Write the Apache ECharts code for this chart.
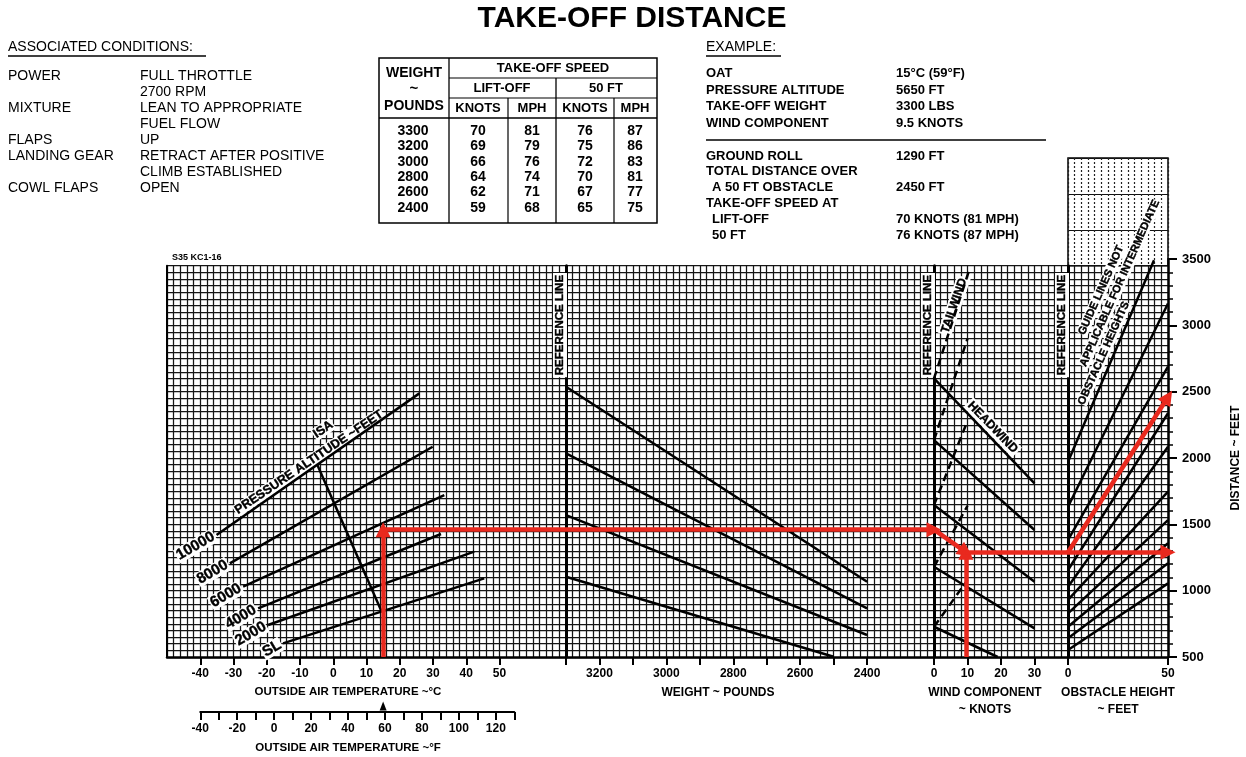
<!DOCTYPE html>
<html><head><meta charset="utf-8">
<script src="https://cdn.jsdelivr.net/npm/echarts@6/dist/echarts.min.js"></script>
<style>html,body{margin:0;padding:0;background:#fff}#c{width:1246px;height:757px}</style>
</head><body><div id="c"></div>
<script>
// ---------------- DATA ----------------
// Pressure altitude guide lines (temperature °C, distance ft)
const altSL    = [[-15.1, 603], [45.4, 1093]];
const alt2000  = [[-19.6, 741], [42.4, 1294]];
const alt4000  = [[-22.6, 867], [32.4, 1427]];
const alt6000  = [[-27.1, 1030], [33.4, 1721]];
const alt8000  = [[-31.1, 1206], [29.9, 2085]];
const alt10000 = [[-35.1, 1419], [25.9, 2487]];
const altitudeNames = ['SL', '2000', '4000', '6000', '8000', '10000'];
const isaLine = [[-4.8, 1950], [14.5, 845]];

// Weight guide lines (pounds, distance ft)
const weightGuide1 = [[3300, 2537], [2400, 1067]];
const weightGuide2 = [[3300, 2035], [2400, 867]];
const weightGuide3 = [[3300, 1570], [2400, 666]];
const weightGuide4 = [[3300, 1105], [2500, 502]];

// Wind guide lines (knots, distance ft)
const headwind1 = [[0, 2600], [30, 1809]];
const headwind2 = [[0, 2135], [30, 1457]];
const headwind3 = [[0, 1645], [30, 1067]];
const headwind4 = [[0, 1180], [30, 716]];
const headwind5 = [[0, 728], [19, 500]];
const tailwind1 = [[0, 2600], [10.5, 3416]];
const tailwind2 = [[0, 2135], [10, 2900]];
const tailwind3 = [[0, 1645], [10, 2280]];
const tailwind4 = [[0, 1180], [10, 1640]];
const tailwind5 = [[0, 728], [10, 1080]];

// Obstacle guide lines (feet, distance ft)
const obstacleGuides = [
  [[0, 1972], [43, 3490]],
  [[0, 1633], [50, 3165]],
  [[0, 1382], [50, 2688]],
  [[0, 1156], [50, 2337]],
  [[0, 1030], [50, 2085]],
  [[0, 930], [50, 1746]],
  [[0, 829], [50, 1532]],
  [[0, 728], [50, 1357]],
  [[0, 641], [50, 1206]],
  [[0, 553], [50, 1055]]
];

// Example path
const exampleOat = 15;
const exampleAltDistance = 1460;
const exampleWind = 9.5;
const exampleGroundRoll = 1290;
const exampleTotal = 2460;
const isaSeaLevelF = 59;

// Tick labels
const tempLabelsC = [-40, -30, -20, -10, 0, 10, 20, 30, 40, 50];
const tempLabelsF = [-40, -20, 0, 20, 40, 60, 80, 100, 120];
const weightLabels = [3200, 3000, 2800, 2600, 2400];
const windLabels = [0, 10, 20, 30];
const obstacleLabels = [0, 50];
const distanceLabels = [500, 1000, 1500, 2000, 2500, 3000, 3500];

// Text blocks
const conditionsLeft = ['POWER', '', 'MIXTURE', '', 'FLAPS', 'LANDING GEAR', '', 'COWL FLAPS'];
const conditionsRight = ['FULL THROTTLE', '2700 RPM', 'LEAN TO APPROPRIATE', 'FUEL FLOW', 'UP', 'RETRACT AFTER POSITIVE', 'CLIMB ESTABLISHED', 'OPEN'];
const tableWeights = [3300, 3200, 3000, 2800, 2600, 2400];
const liftoffKnots = [70, 69, 66, 64, 62, 59];
const liftoffMph = [81, 79, 76, 74, 71, 68];
const fiftyKnots = [76, 75, 72, 70, 67, 65];
const fiftyMph = [87, 86, 83, 81, 77, 75];
const exampleTopRows = [['OAT', '15°C (59°F)'], ['PRESSURE ALTITUDE', '5650 FT'], ['TAKE-OFF WEIGHT', '3300 LBS'], ['WIND COMPONENT', '9.5 KNOTS']];
const exampleBottomRows = [['GROUND ROLL', '1290 FT'], ['TOTAL DISTANCE OVER', ''], [' A 50 FT OBSTACLE', '2450 FT'], ['TAKE-OFF SPEED AT', ''], [' LIFT-OFF', '70 KNOTS (81 MPH)'], [' 50 FT', '76 KNOTS (87 MPH)']];

// ---------------- LAYOUT / STYLE ----------------
const FONT = '"Liberation Sans", Arial, Helvetica, sans-serif';
const RED = '#e9291e';
const K = 398 / 3000;           // px per ft
const BOTTOM_Y = 657;
const MAIN_MAX = 3450;
const MAIN_TOP = BOTTOM_Y - (MAIN_MAX - 500) * K;
const MAIN_H = BOTTOM_Y - MAIN_TOP;
const PXC = 399 / 120;          // px per °C
const C0X = 167;                // x of -50 °C

const gridLine = {show: true, lineStyle: {color: '#151515', width: 1.25}};
const axisBlack = (w) => ({show: true, onZero: false, lineStyle: {color: '#000', width: w}});
const tickLabel = {show: true, color: '#000', fontFamily: FONT, fontWeight: 'bold', fontSize: 12, margin: 11};

const chart = echarts.init(document.getElementById('c'));

function cx(c) { return C0X + (c + 50) * PXC; }
function fToC(f) { return (f - 32) * 5 / 9; }

const grids = [
  {left: 167, top: MAIN_TOP, width: 399, height: MAIN_H},            // 0 temp
  {left: 566, top: MAIN_TOP, width: 368, height: MAIN_H},            // 1 weight
  {left: 934, top: MAIN_TOP, width: 134, height: MAIN_H},            // 2 wind
  {left: 1068, top: MAIN_TOP, width: 100, height: MAIN_H},           // 3 obstacle
  {left: 1068, top: 158, width: 100, height: MAIN_TOP - 158, show: true, borderColor: '#000', borderWidth: 1.5, backgroundColor: 'transparent'}, // 4 extension
  {left: cx(-40), top: BOTTOM_Y - 1, width: 90 * PXC, height: 1},      // 5 temp ticks
  {left: 566, top: BOTTOM_Y - 1, width: 368 * 900 / 1100, height: 1}, // 6 weight ticks
  {left: 934, top: BOTTOM_Y - 1, width: 134 * 30 / 40, height: 1},    // 7 wind ticks
  {left: cx(fToC(-40)), top: 711, width: cx(fToC(130)) - cx(fToC(-40)), height: 1}, // 8 °F
  {left: 1068, top: BOTTOM_Y - 3000 * K, width: 100, height: 3000 * K} // 9 distance axis
];

const hiddenX = (g) => ({gridIndex: g, type: 'value', show: false, min: 0, max: 1});
const hiddenY = (g) => ({gridIndex: g, type: 'value', show: false, min: 0, max: 1});

const xAxes = [
  {gridIndex: 0, type: 'value', min: -50, max: 70, interval: 10, axisLine: axisBlack(2.5), axisTick: {show: false}, axisLabel: {show: false}, splitLine: gridLine, minorTick: {show: false, splitNumber: 5}, minorSplitLine: gridLine},
  {gridIndex: 1, type: 'value', min: 2200, max: 3300, inverse: true, interval: 100, axisLine: axisBlack(2.5), axisTick: {show: false}, axisLabel: {show: false}, splitLine: gridLine, minorTick: {show: false, splitNumber: 5}, minorSplitLine: gridLine},
  {gridIndex: 2, type: 'value', min: 0, max: 40, interval: 10, axisLine: axisBlack(2.5), axisTick: {show: false}, axisLabel: {show: false}, splitLine: gridLine, minorTick: {show: false, splitNumber: 5}, minorSplitLine: gridLine},
  {gridIndex: 3, type: 'value', min: 0, max: 50, interval: 50, position: 'bottom', axisLine: axisBlack(2.5), axisTick: {show: true, length: 8, lineStyle: {color: '#000', width: 2}}, axisLabel: Object.assign({}, tickLabel, {formatter: v => obstacleLabels.includes(v) ? String(v) : ''}), splitLine: {show: false}},
  {gridIndex: 3, type: 'value', min: 0, max: 50, interval: 10, position: 'top', axisLine: {show: false}, axisTick: {show: false}, axisLabel: {show: false}, splitLine: gridLine, minorTick: {show: false, splitNumber: 3}, minorSplitLine: gridLine},
  {gridIndex: 4, type: 'value', min: 0, max: 50, interval: 10, axisLine: {show: false}, axisTick: {show: false}, axisLabel: {show: false}, splitLine: {show: true, lineStyle: {color: '#222', width: 1.2, type: [2, 2]}}, minorTick: {show: false, splitNumber: 3}, minorSplitLine: {show: true, lineStyle: {color: '#222', width: 1.2, type: [2, 2]}}},
  {gridIndex: 5, type: 'value', min: -40, max: 50, interval: 10, axisLine: {show: false}, axisTick: {show: true, length: 8, lineStyle: {color: '#000', width: 2}}, axisLabel: Object.assign({}, tickLabel, {formatter: v => tempLabelsC.includes(v) ? String(v) : ''}), splitLine: {show: false}},
  {gridIndex: 6, type: 'value', min: 2400, max: 3300, inverse: true, interval: 100, axisLine: {show: false}, axisTick: {show: true, length: 8, lineStyle: {color: '#000', width: 2}}, axisLabel: Object.assign({}, tickLabel, {formatter: v => weightLabels.includes(v) ? String(v) : ''}), splitLine: {show: false}},
  {gridIndex: 7, type: 'value', min: 0, max: 30, interval: 10, axisLine: {show: false}, axisTick: {show: true, length: 8, lineStyle: {color: '#000', width: 2}}, axisLabel: Object.assign({}, tickLabel, {formatter: v => windLabels.includes(v) ? String(v) : ''}), splitLine: {show: false}},
  {gridIndex: 8, type: 'value', min: -40, max: 130, interval: 10, axisLine: axisBlack(2), axisTick: {show: true, length: 8, lineStyle: {color: '#000', width: 2}}, axisLabel: Object.assign({}, tickLabel, {formatter: v => tempLabelsF.includes(v) ? String(v) : ''}), splitLine: {show: false}},
  hiddenX(9)
];

const mainY = (g, w) => ({gridIndex: g, type: 'value', min: 500, max: MAIN_MAX, interval: 50, position: 'left', axisLine: axisBlack(w), axisTick: {show: false}, axisLabel: {show: false}, splitLine: gridLine});
const yAxes = [
  mainY(0, 2),
  mainY(1, 3),
  mainY(2, 3),
  mainY(3, 3),
  {gridIndex: 4, type: 'value', min: 0, max: 3, interval: 1, axisLine: {show: false}, axisTick: {show: false}, axisLabel: {show: false}, splitLine: {show: true, lineStyle: {color: '#111', width: 1.2}}},
  hiddenY(5), hiddenY(6), hiddenY(7), hiddenY(8),
  {gridIndex: 9, type: 'value', min: 500, max: 3500, interval: 500, position: 'right',
   axisLine: axisBlack(2.5), axisTick: {show: true, length: 9, lineStyle: {color: '#000', width: 2}},
   minorTick: {show: true, splitNumber: 5, length: 5, lineStyle: {color: '#000', width: 1.5}},
   axisLabel: {show: true, color: '#000', fontFamily: FONT, fontWeight: 'bold', fontSize: 13, margin: 14, formatter: v => distanceLabels.includes(v) ? String(v) : ''},
   splitLine: {show: false},
   name: 'DISTANCE ~ FEET', nameLocation: 'middle', nameRotate: 90, nameGap: 62,
   nameTextStyle: {color: '#000', fontFamily: FONT, fontWeight: 'bold', fontSize: 12}}
];

function curve(data, xi, yi, dashed, clip) {
  return {type: 'line', xAxisIndex: xi, yAxisIndex: yi, data: data, symbol: 'none', silent: true, z: 4,
    clip: clip !== false, animation: false,
    lineStyle: {color: '#000', width: 2.5, opacity: 1, type: dashed ? [8, 5] : 'solid'}};
}
function texts(items, xi, yi, label) {
  return {type: 'scatter', xAxisIndex: xi, yAxisIndex: yi, symbol: 'circle', symbolSize: 0, silent: true, z: 3, clip: false, animation: false,
    itemStyle: {color: '#000', opacity: 1},
    data: items.map(it => ({value: [it[0], it[1]], name: it[2]})),
    label: Object.assign({show: true, position: 'inside', formatter: '{b}', color: '#000', opacity: 1, fontFamily: FONT,
      fontWeight: 'bold', fontSize: 11.5, backgroundColor: '#fff', padding: [1, 2],
      textBorderColor: '#000', textBorderWidth: 0.4}, label)};
}
function redLines(segs, xi, yi, arrow) {
  return {type: 'lines', coordinateSystem: 'cartesian2d', xAxisIndex: xi, yAxisIndex: yi, z: 10, silent: true, clip: false,
    animation: false, polyline: false,
    symbol: arrow ? ['none', 'triangle'] : ['none', 'none'], symbolSize: 15,
    lineStyle: {color: RED, width: 4.5, opacity: 1, curveness: 0},
    data: segs.map(s => ({coords: s}))};
}

const altLines = [altSL, alt2000, alt4000, alt6000, alt8000, alt10000];
const series = [];
altLines.forEach(l => series.push(curve(l, 0, 0)));
series.push(curve(isaLine, 0, 0));
series.push(texts(altLines.map((l, i) => [l[0][0], l[0][1], altitudeNames[i]]), 0, 0,
  {position: 'left', distance: 2, rotate: 30, fontSize: 15, padding: [0, 1]}));
series.push(texts([[-7.3, 1968, 'PRESSURE ALTITUDE ~FEET']], 0, 0, {rotate: 34, fontSize: 12.5, padding: [0, 1]}));
series.push(texts([[-3, 2215, 'ISA']], 0, 0, {rotate: 34, fontSize: 12.5, padding: [0, 1]}));

[weightGuide1, weightGuide2, weightGuide3, weightGuide4].forEach(l => series.push(curve(l, 1, 1)));
series.push(texts([[3318, 3002, 'REFERENCE LINE']], 1, 1, {rotate: 90}));

[headwind1, headwind2, headwind3, headwind4, headwind5].forEach(l => series.push(curve(l, 2, 2)));
[tailwind1, tailwind2, tailwind3, tailwind4, tailwind5].forEach(l => series.push(curve(l, 2, 2, true)));
series.push(texts([[-1.8, 3002, 'REFERENCE LINE']], 2, 2, {rotate: 90}));
series.push(texts([[17.5, 2231, 'HEADWIND']], 2, 2, {rotate: -46, fontSize: 12}));
series.push(texts([[6, 3147, 'TAILWIND']], 2, 2, {rotate: 71, fontSize: 12}));

obstacleGuides.forEach((l, i) => series.push(curve(l, 3, 3, false, i !== 0)));
series.push(texts([[-3, 3002, 'REFERENCE LINE']], 3, 3, {rotate: 90}));
series.push(texts([[16.6, 3265, 'GUIDE LINES NOT'], [25.9, 3317, 'APPLICABLE FOR INTERMEDIATE'], [17.9, 2790, 'OBSTACLE HEIGHTS']], 3, 3,
  {rotate: 66, fontSize: 11, lineHeight: 12, padding: 0}));

// example path (red)
series.push(redLines([[[exampleOat, 500], [exampleOat, exampleAltDistance]]], 0, 0, true));
series.push(redLines([[[exampleOat, exampleAltDistance], [70, exampleAltDistance]]], 0, 0, false));
series.push(redLines([[[3300, exampleAltDistance], [2200, exampleAltDistance]]], 1, 1, true));
series.push(redLines([[[0, exampleAltDistance], [exampleWind, exampleGroundRoll]], [[exampleWind, 500], [exampleWind, exampleGroundRoll]]], 2, 2, true));
series.push(redLines([[[exampleWind, exampleGroundRoll], [40, exampleGroundRoll]]], 2, 2, false));
series.push(redLines([[[0, exampleGroundRoll], [50, exampleGroundRoll]], [[0, exampleGroundRoll], [50, exampleTotal]]], 3, 3, true));

// ISA marker on °F scale
series.push({type: 'scatter', xAxisIndex: 9, yAxisIndex: 8, data: [[isaSeaLevelF, 1]], symbol: 'triangle', symbolSize: [7, 9],
  symbolOffset: [0, -5], itemStyle: {color: '#000', opacity: 1}, silent: true, z: 5, clip: false, animation: false});

// ---------------- GRAPHIC TEXT ----------------
function txt(x, y, s, size, bold, align, family) {
  return {type: 'text', x: x, y: y, silent: true, z: 50,
    style: {text: s, fill: '#000', font: (bold ? 'bold ' : '') + size + 'px ' + (family || FONT), align: align || 'left', verticalAlign: 'middle'}};
}
function seg(x1, y1, x2, y2, w) {
  return {type: 'line', silent: true, z: 50, shape: {x1: x1, y1: y1, x2: x2, y2: y2}, style: {stroke: '#000', lineWidth: w || 1.2}};
}
const g = [];
g.push(txt(632, 19, 'TAKE-OFF DISTANCE', 30, true, 'center'));
// associated conditions
g.push(txt(8, 47, 'ASSOCIATED CONDITIONS:', 14, false));
g.push(seg(8, 56, 206, 56, 1.3));
conditionsLeft.forEach((s, i) => { if (s) g.push(txt(8, 76 + i * 16, s, 14, false)); });
conditionsRight.forEach((s, i) => g.push(txt(140, 76 + i * 16, s, 14, false)));
// table
g.push({type: 'rect', silent: true, z: 50, shape: {x: 379, y: 58, width: 278, height: 165}, style: {fill: 'none', stroke: '#000', lineWidth: 1.5}});
g.push(seg(449, 58, 449, 223, 1.3));
g.push(seg(449, 78, 657, 78, 1.2));
g.push(seg(449, 98, 657, 98, 1.2));
g.push(seg(556, 78, 556, 223, 1.3));
g.push(seg(508, 98, 508, 223, 1.2));
g.push(seg(614, 98, 614, 223, 1.2));
g.push(seg(379, 118, 657, 118, 1.6));
g.push(txt(414, 73, 'WEIGHT', 14, true, 'center'));
g.push(txt(414, 89, '~', 15, true, 'center'));
g.push(txt(414, 106, 'POUNDS', 14, true, 'center'));
g.push(txt(553, 68, 'TAKE-OFF SPEED', 13, true, 'center'));
g.push(txt(502, 88, 'LIFT-OFF', 13, true, 'center'));
g.push(txt(606, 88, '50 FT', 13, true, 'center'));
g.push(txt(478, 108, 'KNOTS', 13, true, 'center'));
g.push(txt(532, 108, 'MPH', 13, true, 'center'));
g.push(txt(585, 108, 'KNOTS', 13, true, 'center'));
g.push(txt(635, 108, 'MPH', 13, true, 'center'));
tableWeights.forEach((w, i) => {
  const y = 131 + i * 15.4;
  g.push(txt(413, y, String(w), 14, true, 'center'));
  g.push(txt(478, y, String(liftoffKnots[i]), 14, true, 'center'));
  g.push(txt(532, y, String(liftoffMph[i]), 14, true, 'center'));
  g.push(txt(585, y, String(fiftyKnots[i]), 14, true, 'center'));
  g.push(txt(635, y, String(fiftyMph[i]), 14, true, 'center'));
});
// example
g.push(txt(706, 47, 'EXAMPLE:', 14, false));
g.push(seg(706, 56, 781, 56, 1.3));
exampleTopRows.forEach((r, i) => {
  const y = 73.5 + i * 16.5;
  g.push(txt(706, y, r[0], 13, true));
  g.push(txt(896, y, r[1], 13, true));
});
g.push(seg(706, 140, 1046, 140, 1.3));
exampleBottomRows.forEach((r, i) => {
  const y = 156 + i * 15.8;
  g.push(txt(706 + (r[0].startsWith(' ') ? 6 : 0), y, r[0].trim(), 13, true));
  if (r[1]) g.push(txt(896, y, r[1], 13, true));
});
// axis titles
g.push(txt(172, 258, 'S35 KC1-16', 9, true));
g.push(txt(348, 692, 'OUTSIDE AIR TEMPERATURE ~°C', 11.5, true, 'center'));
g.push(txt(348, 748, 'OUTSIDE AIR TEMPERATURE ~°F', 11.5, true, 'center'));
g.push(txt(718, 693, 'WEIGHT ~ POUNDS', 12, true, 'center'));
g.push(txt(985, 693, 'WIND COMPONENT', 12, true, 'center'));
g.push(txt(985, 710, '~ KNOTS', 12, true, 'center'));
g.push(txt(1118, 693, 'OBSTACLE HEIGHT', 12, true, 'center'));
g.push(txt(1118, 710, '~ FEET', 12, true, 'center'));

chart.setOption({
  animation: false,
  backgroundColor: '#fff',
  grid: grids,
  xAxis: xAxes,
  yAxis: yAxes,
  series: series,
  graphic: g
});
</script>
</body></html>
